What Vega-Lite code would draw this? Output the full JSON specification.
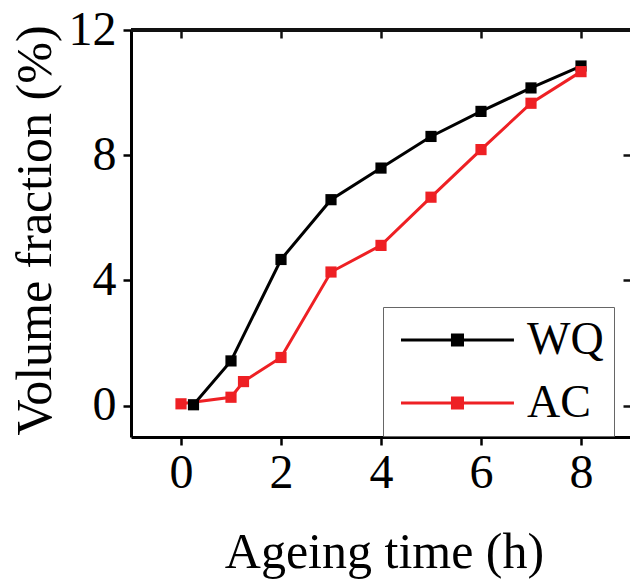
{
  "$schema": "https://vega.github.io/schema/vega-lite/v6.json",
  "width": 500,
  "height": 407,
  "autosize": {"type": "none"},
  "padding": {"left": 131, "top": 30, "right": 0, "bottom": 146},
  "background": "white",
  "config": {
    "font": "Liberation Serif",
    "view": {"stroke": null},
    "axis": {"labelFont": "Liberation Serif", "titleFont": "Liberation Serif", "titleFontWeight": "normal", "labelColor": "black", "titleColor": "black", "domainColor": "black", "tickColor": "black", "domainWidth": 3, "tickWidth": 2.5, "grid": false}
  },
  "data": {"values": [
    {"series": "WQ", "time": 0.25, "vf": 0.03},
    {"series": "WQ", "time": 1, "vf": 1.43},
    {"series": "WQ", "time": 2, "vf": 4.67},
    {"series": "WQ", "time": 3, "vf": 6.58},
    {"series": "WQ", "time": 4, "vf": 7.59},
    {"series": "WQ", "time": 5, "vf": 8.6},
    {"series": "WQ", "time": 6, "vf": 9.4},
    {"series": "WQ", "time": 7, "vf": 10.15},
    {"series": "WQ", "time": 8, "vf": 10.85},
    {"series": "AC", "time": 0, "vf": 0.06},
    {"series": "AC", "time": 1, "vf": 0.27},
    {"series": "AC", "time": 1.25, "vf": 0.77},
    {"series": "AC", "time": 2, "vf": 1.54},
    {"series": "AC", "time": 3, "vf": 4.27},
    {"series": "AC", "time": 4, "vf": 5.12},
    {"series": "AC", "time": 5, "vf": 6.66},
    {"series": "AC", "time": 6, "vf": 8.18},
    {"series": "AC", "time": 7, "vf": 9.66},
    {"series": "AC", "time": 8, "vf": 10.67}
  ]},
  "resolve": {"axis": {"x": "independent", "y": "independent"}},
  "layer": [
    {
      "encoding": {
        "x": {"field": "time", "type": "quantitative", "scale": {"domain": [-1, 9], "nice": false, "zero": false},
          "axis": {"orient": "bottom", "values": [0, 2, 4, 6, 8], "tickSize": 8, "labelFontSize": 48, "labelPadding": 4, "labelBaseline": "top", "title": "Ageing time (h)", "titleFontSize": 50, "titleBaseline": "alphabetic", "titleY": 130, "titleX": 253}},
        "y": {"field": "vf", "type": "quantitative", "scale": {"domain": [-1, 12], "nice": false, "zero": false},
          "axis": {"orient": "left", "values": [0, 4, 8, 12], "tickSize": 8, "labelFontSize": 48, "labelPadding": 7, "title": "Volume fraction (%)", "titleFontSize": 50, "titleBaseline": "alphabetic", "titleAngle": -90, "titleX": -81, "titleY": 200}},
        "color": {"field": "series", "type": "nominal", "scale": {"domain": ["WQ", "AC"], "range": ["#000000", "#ee2024"]},
          "legend": {"orient": "none", "legendX": 252, "legendY": 277, "title": null, "padding": 10, "strokeColor": "#666666",
            "symbolType": "M-1,0H6.53M2.43,-0.33H3.1V0.33H2.43Z", "symbolSize": 900, "symbolStrokeWidth": 3,
            "labelFontSize": 46, "labelFont": "Liberation Serif", "labelColor": "black", "labelOffset": 88, "rowPadding": 17, "labelLimit": 300,
            "encode": {"symbols": {"update": {"fill": {"scale": "color", "field": "value"}, "stroke": {"scale": "color", "field": "value"}, "strokeWidth": {"value": 3}, "opacity": {"value": 1}}}}}}
      },
      "layer": [
        {"mark": {"type": "line", "strokeWidth": 3}},
        {"mark": {"type": "point", "shape": "square", "filled": true, "size": 125, "opacity": 1}}
      ]
    },
    {
      "mark": {"type": "point", "opacity": 0},
      "encoding": {
        "x": {"field": "time", "type": "quantitative", "axis": {"orient": "top", "values": [0, 2, 4, 6, 8], "tickSize": 8, "offset": -8, "labels": true, "labelOpacity": 0, "labelFontSize": 10, "domainOpacity": 0, "domainColor": "#111111", "tickColor": "#111111", "title": null}},
        "y": {"field": "vf", "type": "quantitative", "axis": {"orient": "right", "values": [0, 4, 8, 12], "tickSize": 8, "offset": -8, "labels": true, "labelOpacity": 0, "labelFontSize": 10, "domainOpacity": 0, "domainColor": "#111111", "tickColor": "#111111", "title": null}}
      }
    },
    {
      "mark": {"type": "rule", "strokeWidth": 3, "color": "#111111"},
      "encoding": {"y": {"datum": 12, "type": "quantitative", "axis": null}}
    }
  ]
}
